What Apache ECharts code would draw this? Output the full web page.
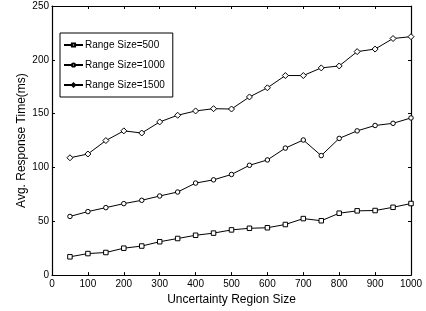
<!DOCTYPE html>
<html>
<head>
<meta charset="utf-8">
<script src="https://cdn.jsdelivr.net/npm/echarts@6/dist/echarts.min.js"></script>
<style>
  html, body { margin: 0; padding: 0; background: #fff; }
  #chart { width: 426px; height: 311px; }
</style>
</head>
<body>
<div id="chart"></div>
<script>
const regionSize = [50, 100, 150, 200, 250, 300, 350, 400, 450, 500, 550, 600, 650, 700, 750, 800, 850, 900, 950, 1000];
const range500 = [17, 20, 21, 25, 27, 31, 34, 37, 39, 42, 43.5, 44, 47, 52.5, 50.5, 57.5, 59.7, 60, 63, 66.5];
const range1000 = [54.5, 59, 62.7, 66.4, 69.5, 73.5, 77.2, 85.5, 88.5, 93.5, 102, 107, 118, 125.5, 111, 127, 134, 139, 141, 146];
const range1500 = [109, 112.5, 125, 134, 132, 142.3, 148.5, 152.5, 154.6, 154.3, 165.5, 174, 185.4, 185.4, 192.5, 194.3, 207.6, 210, 219.8, 221.5];

const font = 'Liberation Sans, Arial, sans-serif';

function pairs(vals) {
  return vals.map((v, i) => [regionSize[i], v]);
}

function makeSeries(name, vals, symbol) {
  return {
    name,
    type: 'line',
    data: pairs(vals),
    symbol,
    symbolSize: symbol === 'diamond' ? 6 : 4.5,
    showAllSymbol: true,
    lineStyle: { color: '#000', width: 1 },
    itemStyle: { color: '#fff', borderColor: '#000', borderWidth: 1 },
    emphasis: { disabled: true },
    animation: false
  };
}

const chart = echarts.init(document.getElementById('chart'), null, { renderer: 'canvas' });
const tickStyle = { show: true, inside: true, length: 3, lineStyle: { color: '#000', width: 1 } };
const lineStyle = { show: true, onZero: false, lineStyle: { color: '#000', width: 1.2 } };

chart.setOption({
  animation: false,
  grid: { left: 52, right: 15, top: 6, bottom: 34 },
  legend: {
    orient: 'vertical',
    left: 60,
    top: 33,
    itemWidth: 19,
    itemHeight: 4,
    itemGap: 10,
    padding: [7, 8, 7, 3],
    borderColor: '#000',
    borderWidth: 1,
    backgroundColor: '#fff',
    textStyle: { fontFamily: font, fontSize: 10, color: '#000', padding: [0, 0, 0, -3] },
    data: ['Range Size=500', 'Range Size=1000', 'Range Size=1500']
  },
  xAxis: [
    {
      type: 'value', min: 0, max: 1000, interval: 100,
      name: 'Uncertainty Region Size', nameLocation: 'middle', nameGap: 14,
      nameTextStyle: { fontFamily: font, fontSize: 12, color: '#000' },
      axisLine: lineStyle, axisTick: tickStyle,
      axisLabel: { fontFamily: font, fontSize: 10, color: '#000', margin: 4, formatter: v => String(v) },
      splitLine: { show: false }
    },
    {
      type: 'value', min: 0, max: 1000, interval: 100, position: 'top',
      axisLine: lineStyle, axisTick: tickStyle, axisLabel: { show: false },
      splitLine: { show: false }
    }
  ],
  yAxis: [
    {
      type: 'value', min: 0, max: 250, interval: 50,
      name: 'Avg. Response Time(ms)', nameLocation: 'middle', nameGap: 24,
      nameMoveOverlap: false,
      nameTextStyle: { fontFamily: font, fontSize: 12, color: '#000' },
      axisLine: lineStyle, axisTick: tickStyle,
      axisLabel: { fontFamily: font, fontSize: 10, color: '#000', margin: 3 },
      splitLine: { show: false }
    },
    {
      type: 'value', min: 0, max: 250, interval: 50, position: 'right',
      axisLine: lineStyle, axisTick: tickStyle, axisLabel: { show: false },
      splitLine: { show: false }
    }
  ],
  series: [
    makeSeries('Range Size=500', range500, 'rect'),
    makeSeries('Range Size=1000', range1000, 'circle'),
    makeSeries('Range Size=1500', range1500, 'diamond')
  ]
});
</script>
</body>
</html>
